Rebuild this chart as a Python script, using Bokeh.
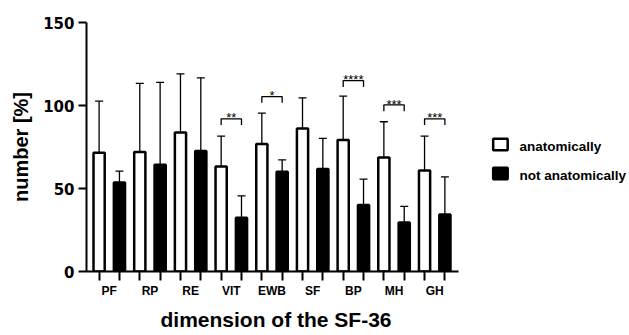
from bokeh.plotting import figure
from bokeh.models import ColumnDataSource, Range1d, FixedTicker, Whisker, TeeHead, Title
from bokeh.core.properties import value
from bokeh.embed import file_html
from bokeh.resources import INLINE

# ---------------- data ----------------
categories = ["PF", "RP", "RE", "VIT", "EWB", "SF", "BP", "MH", "GH"]
series = ["anatomically", "not anatomically"]
anat_mean = [71.5, 72.0, 83.8, 63.2, 76.8, 86.2, 79.2, 68.7, 60.9]
anat_sd = [31.1, 41.3, 35.3, 18.4, 18.6, 18.4, 26.5, 21.5, 20.7]
notanat_mean = [53.6, 64.3, 72.6, 32.4, 60.1, 61.7, 40.0, 29.5, 34.4]
notanat_sd = [6.9, 49.6, 44.1, 13.1, 7.2, 18.5, 15.7, 9.7, 22.6]

sig_categories = ["VIT", "EWB", "BP", "MH", "GH"]
sig_labels = ["**", "*", "****", "***", "***"]
sig_heights = [92.0, 105.4, 115.0, 100.4, 92.0]

y_ticks = [0, 50, 100, 150]
x_title = "dimension of the SF-36"
y_title = "number [%]"

# ---------------- layout / style constants ----------------
W, H = 629, 335
LEFT, TOP, BOTTOM = 86, 22, 64
PX_PER_BAR = 20.34
X_START = -0.62
X_END = X_START + (W - LEFT) / PX_PER_BAR
AXIS_END = 17.65
BAR_W = 0.55
LEG_DROP = 3.8
FONT = "Liberation Sans"

n = len(categories)
xa = [2 * i for i in range(n)]
xn = [2 * i + 1 for i in range(n)]

src_a = ColumnDataSource(dict(x=xa, top=anat_mean,
                              upper=[m + s for m, s in zip(anat_mean, anat_sd)]))
src_n = ColumnDataSource(dict(x=xn, top=notanat_mean,
                              upper=[m + s for m, s in zip(notanat_mean, notanat_sd)]))

p = figure(width=W, height=H, output_backend="svg", toolbar_location=None,
           x_range=Range1d(X_START, X_END), y_range=Range1d(0, 150),
           min_border_left=LEFT, min_border_right=0, min_border_top=TOP,
           min_border_bottom=BOTTOM)
p.outline_line_color = None
p.xgrid.visible = False
p.ygrid.visible = False
p.background_fill_color = "white"

# bars
p.vbar(x="x", top="top", width=BAR_W, source=src_a, fill_color="white",
       line_color="black", line_width=2.5)
p.vbar(x="x", top="top", width=BAR_W, source=src_n, fill_color="black",
       line_color="black", line_width=2.5)

# error bars (upper only)
for src in (src_a, src_n):
    w = Whisker(source=src, base="x", lower="top", upper="upper", dimension="height",
                line_color="black", line_width=1.3,
                upper_head=TeeHead(size=8, line_color="black", line_width=1.3),
                lower_head=None)
    p.add_layout(w)

# significance brackets
bx, by, tx, ty = [], [], [], []
for cat, h in zip(sig_categories, sig_heights):
    i = categories.index(cat)
    x0, x1 = xa[i], xn[i]
    bx.append([x0, x0, x1, x1])
    by.append([h - LEG_DROP, h, h, h - LEG_DROP])
    tx.append((x0 + x1) / 2)
    ty.append(h + 0.5)
p.multi_line(xs=bx, ys=by, line_color="black", line_width=1.3)
p.text(x=tx, y=ty, text=sig_labels, text_font=value(FONT), text_font_size="13px",
       text_align="center", text_baseline="alphabetic", text_color="black")

# legend (drawn manually to the right of the axis)
LEG_X = 19.73
LEG_TX = 20.67
leg_y = [76.5, 59.0]
p.rect(x=[LEG_X], y=[leg_y[0]], width=14.5, height=11.5, width_units="screen",
       height_units="screen", fill_color="white", line_color="black", line_width=2.5)
p.rect(x=[LEG_X], y=[leg_y[1]], width=14.5, height=11.5, width_units="screen",
       height_units="screen", fill_color="black", line_color="black", line_width=2.5)
p.text(x=[LEG_TX, LEG_TX], y=[v - 1.0 for v in leg_y], text=series,
       text_font=value(FONT), text_font_style="bold", text_font_size="13.5px",
       text_align="left", text_baseline="middle", text_color="black")

# x axis
xax = p.xaxis[0]
xax.bounds = (X_START, AXIS_END)
xax.ticker = FixedTicker(ticks=[2 * i + 0.5 for i in range(n)],
                         minor_ticks=xa + xn)
xax.major_label_overrides = {2 * i + 0.5: c for i, c in enumerate(categories)}
xax.major_tick_line_color = None
xax.major_tick_out = 8
xax.major_tick_in = 0
xax.minor_tick_out = 9
xax.minor_tick_in = 0
xax.minor_tick_line_width = 2
xax.minor_tick_line_color = "black"
xax.axis_line_width = 2
xax.axis_line_color = "black"
xax.major_label_standoff = 3
xax.major_label_text_font = FONT
xax.major_label_text_font_style = "bold"
xax.major_label_text_font_size = "12px"
xax.major_label_text_color = "black"

# x axis title, placed below the axis and centred under the drawn axis line
p.add_layout(Title(text=x_title, align="left", offset=74, standoff=10,
                   text_font=FONT, text_font_style="bold", text_font_size="21px",
                   text_color="black"), "below")

# y axis
yax = p.yaxis[0]
yax.bounds = (0, 150)
yax.ticker = FixedTicker(ticks=y_ticks, minor_ticks=[])
yax.major_tick_out = 8
yax.major_tick_in = 0
yax.major_tick_line_width = 2
yax.major_tick_line_color = "black"
yax.minor_tick_line_color = None
yax.axis_line_width = 2
yax.axis_line_color = "black"
yax.major_label_standoff = 4
yax.major_label_text_font = "DejaVu Sans"
yax.major_label_text_font_style = "bold"
yax.major_label_text_font_size = "15px"
yax.major_label_text_color = "black"
yax.axis_label = y_title
yax.axis_label_text_font = FONT
yax.axis_label_text_font_style = "bold"
yax.axis_label_text_font_size = "20px"
yax.axis_label_text_color = "black"
yax.axis_label_standoff = 8

open("out.html", "w").write(file_html(p, INLINE))
